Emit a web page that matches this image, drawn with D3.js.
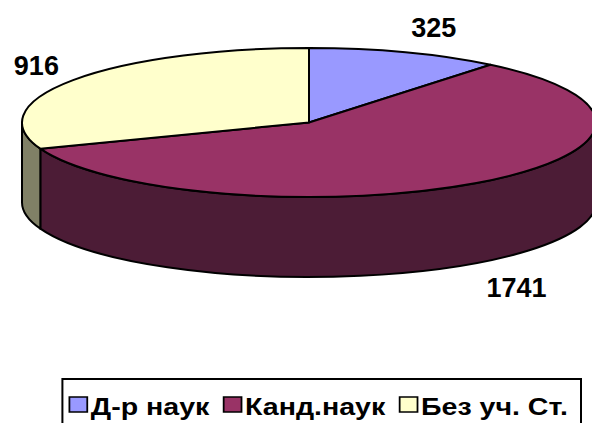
<!DOCTYPE html>
<html>
<head>
<meta charset="utf-8">
<script src="https://cdn.jsdelivr.net/npm/d3@7"></script>
<style>
  body { margin: 0; background: #fff; }
  svg { display: block; font-family: Arial, "Liberation Sans", sans-serif; font-weight: bold; }
</style>
</head>
<body>
<script>
// data
var categories = ["Д-р наук", "Канд.наук", "Без уч. Ст."];
var values = [325, 1741, 916];
var topColors = ["#9999FF", "#993366", "#FFFFCC"];
var sideColors = ["#4D4D80", "#4C1C36", "#808066"];

var width = 592, height = 423;

// ellipse geometry of the tilted pie
var cx = 309, cy = 122.5, rx = 287, ry = 74.5, depth = 80;

var svg = d3.select("body").append("svg")
    .attr("width", width)
    .attr("height", height);

// unit circle -> ellipse
var xs = d3.scaleLinear().domain([-1, 1]).range([cx - rx, cx + rx]);
var ys = d3.scaleLinear().domain([-1, 1]).range([cy + ry, cy - ry]);

function px(a) { return xs(Math.sin(a)); }
function py(a) { return ys(Math.cos(a)); }

var pie = d3.pie().sort(null).value(function(d) { return d; });
var arcs = pie(values);

// side walls (front half only: angles PI/2 .. 3PI/2)
var sides = svg.append("g");
arcs.forEach(function(d, i) {
  var a0 = Math.max(d.startAngle, Math.PI / 2),
      a1 = Math.min(d.endAngle, 3 * Math.PI / 2);
  if (a1 <= a0) return;
  var large = (a1 - a0) > Math.PI ? 1 : 0;
  var p = "M" + px(a0) + "," + py(a0) +
    "A" + rx + "," + ry + " 0 " + large + " 1 " + px(a1) + "," + py(a1) +
    "L" + px(a1) + "," + (py(a1) + depth) +
    "A" + rx + "," + ry + " 0 " + large + " 0 " + px(a0) + "," + (py(a0) + depth) + "Z";
  sides.append("path")
      .attr("d", p)
      .attr("fill", sideColors[i])
      .attr("stroke", "#000")
      .attr("stroke-width", 2)
      .attr("stroke-linejoin", "round");
});

// top faces
var tops = svg.append("g");
arcs.forEach(function(d, i) {
  var a0 = d.startAngle, a1 = d.endAngle;
  var large = (a1 - a0) > Math.PI ? 1 : 0;
  var p = "M" + cx + "," + cy +
    "L" + px(a0) + "," + py(a0) +
    "A" + rx + "," + ry + " 0 " + large + " 1 " + px(a1) + "," + py(a1) + "Z";
  tops.append("path")
      .attr("d", p)
      .attr("fill", topColors[i])
      .attr("stroke", "#000")
      .attr("stroke-width", 2)
      .attr("stroke-linejoin", "round");
});

// data labels
var kx = 1.06, ky = 1.38;
svg.append("g").selectAll("text")
    .data(arcs)
  .enter().append("text")
    .attr("x", function(d) {
      var m = (d.startAngle + d.endAngle) / 2;
      return cx + rx * kx * Math.sin(m);
    })
    .attr("y", function(d) {
      var m = (d.startAngle + d.endAngle) / 2;
      return cy - ry * ky * Math.cos(m) + (Math.cos(m) < 0 ? depth : 0) + 2;
    })
    .attr("dy", "0.35em")
    .attr("text-anchor", function(d) {
      return Math.sin((d.startAngle + d.endAngle) / 2) > 0 ? "start" : "end";
    })
    .style("font-size", "27px")
    .text(function(d) { return d.data; });

// legend (stretched horizontally like the original)
var legend = svg.append("g");
var box = legend.append("rect")
    .attr("fill", "#fff")
    .attr("stroke", "#000")
    .attr("stroke-width", 2);

var items = legend.append("g");
var lx = 0, sq = 15, sx = 1.19;
categories.forEach(function(c, i) {
  items.append("rect")
      .attr("x", lx).attr("y", -sq)
      .attr("width", sq).attr("height", sq)
      .attr("fill", topColors[i])
      .attr("stroke", "#000")
      .attr("stroke-width", 1.5);
  var t = items.append("text")
      .attr("x", lx + sq + 3)
      .attr("y", 3)
      .style("font-size", "24px")
      .text(c);
  lx += sq + 3 + t.node().getComputedTextLength() + 12;
});
lx -= 12;
var legRight = 568, legBase = 412;
var legLeft = legRight - lx * sx;
items.attr("transform", "translate(" + legLeft + "," + legBase + ") scale(" + sx + ",1)");
box.attr("x", legLeft - 7).attr("y", 379)
   .attr("width", 581 - (legLeft - 7)).attr("height", 60);
</script>
</body>
</html>
